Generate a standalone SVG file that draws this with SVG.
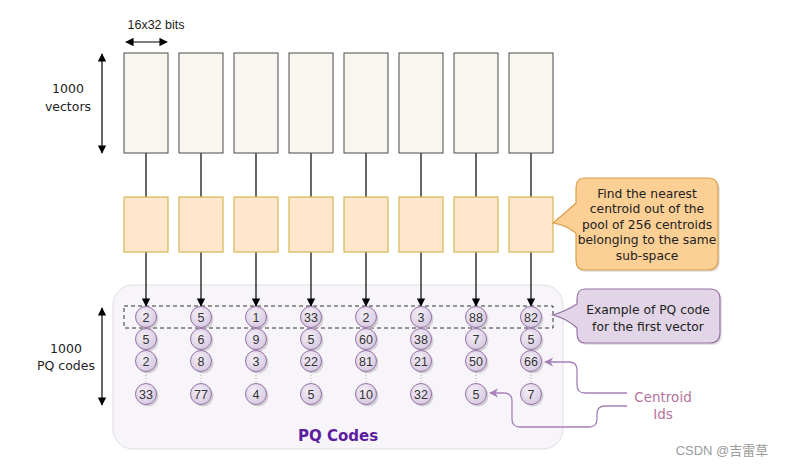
<svg xmlns="http://www.w3.org/2000/svg" width="788" height="467" viewBox="0 0 788 467">
<style>
.vec{fill:#f8f6ee;stroke:#4a4a4a;stroke-width:1}
.sub{fill:#ffe6cc;stroke:#d6b656;stroke-width:1.2}
.ln{stroke:#000;stroke-width:1.2;fill:none}
.cc{fill:url(#cg);stroke:#9673a6;stroke-width:1}
.cs{fill:#bbb;opacity:0.6}
.ct{font-family:"Liberation Sans",Arial,sans-serif;font-size:12.5px;fill:#333;text-anchor:middle}
.lbl{font-family:"DejaVu Sans","Liberation Sans",sans-serif;font-size:12.5px;fill:#222;text-anchor:middle}
.co{font-family:"DejaVu Sans","Liberation Sans",sans-serif;font-size:12.3px;fill:#222;text-anchor:middle}
.dot{stroke:#aaa;stroke-width:1;stroke-dasharray:1 2}
.pl{stroke:#a680b8;stroke-width:1.3;fill:none}
</style>
<defs>
<radialGradient id="cg" cx="0.4" cy="0.35" r="0.7">
<stop offset="0" stop-color="#f4eff7"/>
<stop offset="1" stop-color="#d6c8e0"/>
</radialGradient>
<marker id="ah" viewBox="0 0 10 10" refX="9" refY="5" markerWidth="7" markerHeight="7" orient="auto-start-reverse">
<path d="M0,0 L10,5 L0,10 z" fill="#000"/>
</marker>
<marker id="ap" viewBox="0 0 10 10" refX="9" refY="5" markerWidth="7" markerHeight="7" orient="auto">
<path d="M0,0 L10,5 L0,10 L3,5 z" fill="#a680b8"/>
</marker>
</defs>

<g id="pq-container">
<rect x="113" y="285" width="450" height="164" rx="20" fill="#f7f5f9" stroke="#e0dce4"/>
<text x="338" y="441" font-family="DejaVu Sans,sans-serif" font-size="15" font-weight="bold" fill="#5c1d9e" text-anchor="middle">PQ Codes</text>
</g>

<g id="dim-labels">
<text x="156" y="29" font-family="Liberation Sans,Arial,sans-serif" font-size="12.5" fill="#222" text-anchor="middle">16x32 bits</text>
<line x1="126" y1="42" x2="167" y2="42" class="ln" marker-start="url(#ah)" marker-end="url(#ah)"/>
<line x1="102" y1="54" x2="102" y2="153" class="ln" marker-start="url(#ah)" marker-end="url(#ah)"/>
<text x="68" y="93" class="lbl">1000</text>
<text x="68" y="111" class="lbl">vectors</text>
<line x1="102" y1="308" x2="102" y2="405" class="ln" marker-start="url(#ah)" marker-end="url(#ah)"/>
<text x="66" y="353" class="lbl">1000</text>
<text x="66" y="370" class="lbl">PQ codes</text>
</g>

<g id="connectors">
<line x1="146" y1="153" x2="146" y2="197" class="ln"/>
<line x1="201" y1="153" x2="201" y2="197" class="ln"/>
<line x1="256" y1="153" x2="256" y2="197" class="ln"/>
<line x1="311" y1="153" x2="311" y2="197" class="ln"/>
<line x1="366" y1="153" x2="366" y2="197" class="ln"/>
<line x1="421" y1="153" x2="421" y2="197" class="ln"/>
<line x1="476" y1="153" x2="476" y2="197" class="ln"/>
<line x1="531" y1="153" x2="531" y2="197" class="ln"/>
<line x1="146" y1="252" x2="146" y2="306" class="ln" marker-end="url(#ah)"/>
<line x1="201" y1="252" x2="201" y2="306" class="ln" marker-end="url(#ah)"/>
<line x1="256" y1="252" x2="256" y2="306" class="ln" marker-end="url(#ah)"/>
<line x1="311" y1="252" x2="311" y2="306" class="ln" marker-end="url(#ah)"/>
<line x1="366" y1="252" x2="366" y2="306" class="ln" marker-end="url(#ah)"/>
<line x1="421" y1="252" x2="421" y2="306" class="ln" marker-end="url(#ah)"/>
<line x1="476" y1="252" x2="476" y2="306" class="ln" marker-end="url(#ah)"/>
<line x1="531" y1="252" x2="531" y2="306" class="ln" marker-end="url(#ah)"/>
<path class="pl" d="M627,393 L585,393 Q577,393 577,385 L577,370 Q577,362 569,362 L545,362" marker-end="url(#ap)"/>
<path class="pl" d="M627,406 L605,406 Q597,406 597,414 L597,419 Q597,427 589,427 L520,427 Q512,427 512,419 L512,401 Q512,393 504,393 L490,393" marker-end="url(#ap)"/>
</g>

<g id="vectors">
<rect class="vec" x="124" y="53" width="44" height="100"/>
<rect class="vec" x="179" y="53" width="44" height="100"/>
<rect class="vec" x="234" y="53" width="44" height="100"/>
<rect class="vec" x="289" y="53" width="44" height="100"/>
<rect class="vec" x="344" y="53" width="44" height="100"/>
<rect class="vec" x="399" y="53" width="44" height="100"/>
<rect class="vec" x="454" y="53" width="44" height="100"/>
<rect class="vec" x="509" y="53" width="44" height="100"/>
</g>

<g id="subspaces">
<rect class="sub" x="124" y="197" width="44" height="55"/>
<rect class="sub" x="179" y="197" width="44" height="55"/>
<rect class="sub" x="234" y="197" width="44" height="55"/>
<rect class="sub" x="289" y="197" width="44" height="55"/>
<rect class="sub" x="344" y="197" width="44" height="55"/>
<rect class="sub" x="399" y="197" width="44" height="55"/>
<rect class="sub" x="454" y="197" width="44" height="55"/>
<rect class="sub" x="509" y="197" width="44" height="55"/>
</g>

<g id="first-vector-box">
<rect x="124" y="306" width="429" height="22" fill="none" stroke="#333" stroke-width="1" stroke-dasharray="4 3"/>
</g>

<g id="dots">
<line class="dot" x1="146" y1="372" x2="146" y2="383"/>
<line class="dot" x1="201" y1="372" x2="201" y2="383"/>
<line class="dot" x1="256" y1="372" x2="256" y2="383"/>
<line class="dot" x1="311" y1="372" x2="311" y2="383"/>
<line class="dot" x1="366" y1="372" x2="366" y2="383"/>
<line class="dot" x1="421" y1="372" x2="421" y2="383"/>
<line class="dot" x1="476" y1="372" x2="476" y2="383"/>
<line class="dot" x1="531" y1="372" x2="531" y2="383"/>
</g>

<g id="codes">
<g id="col1">
<circle class="cs" cx="148" cy="319" r="10.5"/><circle class="cc" cx="146" cy="317" r="10.5"/><text class="ct" x="146" y="321.5">2</text>
<circle class="cs" cx="148" cy="341" r="10.5"/><circle class="cc" cx="146" cy="339" r="10.5"/><text class="ct" x="146" y="343.5">5</text>
<circle class="cs" cx="148" cy="363" r="10.5"/><circle class="cc" cx="146" cy="361" r="10.5"/><text class="ct" x="146" y="365.5">2</text>
<circle class="cs" cx="148" cy="396" r="10.5"/><circle class="cc" cx="146" cy="394" r="10.5"/><text class="ct" x="146" y="398.5">33</text>
</g>
<g id="col2">
<circle class="cs" cx="203" cy="319" r="10.5"/><circle class="cc" cx="201" cy="317" r="10.5"/><text class="ct" x="201" y="321.5">5</text>
<circle class="cs" cx="203" cy="341" r="10.5"/><circle class="cc" cx="201" cy="339" r="10.5"/><text class="ct" x="201" y="343.5">6</text>
<circle class="cs" cx="203" cy="363" r="10.5"/><circle class="cc" cx="201" cy="361" r="10.5"/><text class="ct" x="201" y="365.5">8</text>
<circle class="cs" cx="203" cy="396" r="10.5"/><circle class="cc" cx="201" cy="394" r="10.5"/><text class="ct" x="201" y="398.5">77</text>
</g>
<g id="col3">
<circle class="cs" cx="258" cy="319" r="10.5"/><circle class="cc" cx="256" cy="317" r="10.5"/><text class="ct" x="256" y="321.5">1</text>
<circle class="cs" cx="258" cy="341" r="10.5"/><circle class="cc" cx="256" cy="339" r="10.5"/><text class="ct" x="256" y="343.5">9</text>
<circle class="cs" cx="258" cy="363" r="10.5"/><circle class="cc" cx="256" cy="361" r="10.5"/><text class="ct" x="256" y="365.5">3</text>
<circle class="cs" cx="258" cy="396" r="10.5"/><circle class="cc" cx="256" cy="394" r="10.5"/><text class="ct" x="256" y="398.5">4</text>
</g>
<g id="col4">
<circle class="cs" cx="313" cy="319" r="10.5"/><circle class="cc" cx="311" cy="317" r="10.5"/><text class="ct" x="311" y="321.5">33</text>
<circle class="cs" cx="313" cy="341" r="10.5"/><circle class="cc" cx="311" cy="339" r="10.5"/><text class="ct" x="311" y="343.5">5</text>
<circle class="cs" cx="313" cy="363" r="10.5"/><circle class="cc" cx="311" cy="361" r="10.5"/><text class="ct" x="311" y="365.5">22</text>
<circle class="cs" cx="313" cy="396" r="10.5"/><circle class="cc" cx="311" cy="394" r="10.5"/><text class="ct" x="311" y="398.5">5</text>
</g>
<g id="col5">
<circle class="cs" cx="368" cy="319" r="10.5"/><circle class="cc" cx="366" cy="317" r="10.5"/><text class="ct" x="366" y="321.5">2</text>
<circle class="cs" cx="368" cy="341" r="10.5"/><circle class="cc" cx="366" cy="339" r="10.5"/><text class="ct" x="366" y="343.5">60</text>
<circle class="cs" cx="368" cy="363" r="10.5"/><circle class="cc" cx="366" cy="361" r="10.5"/><text class="ct" x="366" y="365.5">81</text>
<circle class="cs" cx="368" cy="396" r="10.5"/><circle class="cc" cx="366" cy="394" r="10.5"/><text class="ct" x="366" y="398.5">10</text>
</g>
<g id="col6">
<circle class="cs" cx="423" cy="319" r="10.5"/><circle class="cc" cx="421" cy="317" r="10.5"/><text class="ct" x="421" y="321.5">3</text>
<circle class="cs" cx="423" cy="341" r="10.5"/><circle class="cc" cx="421" cy="339" r="10.5"/><text class="ct" x="421" y="343.5">38</text>
<circle class="cs" cx="423" cy="363" r="10.5"/><circle class="cc" cx="421" cy="361" r="10.5"/><text class="ct" x="421" y="365.5">21</text>
<circle class="cs" cx="423" cy="396" r="10.5"/><circle class="cc" cx="421" cy="394" r="10.5"/><text class="ct" x="421" y="398.5">32</text>
</g>
<g id="col7">
<circle class="cs" cx="478" cy="319" r="10.5"/><circle class="cc" cx="476" cy="317" r="10.5"/><text class="ct" x="476" y="321.5">88</text>
<circle class="cs" cx="478" cy="341" r="10.5"/><circle class="cc" cx="476" cy="339" r="10.5"/><text class="ct" x="476" y="343.5">7</text>
<circle class="cs" cx="478" cy="363" r="10.5"/><circle class="cc" cx="476" cy="361" r="10.5"/><text class="ct" x="476" y="365.5">50</text>
<circle class="cs" cx="478" cy="396" r="10.5"/><circle class="cc" cx="476" cy="394" r="10.5"/><text class="ct" x="476" y="398.5">5</text>
</g>
<g id="col8">
<circle class="cs" cx="533" cy="319" r="10.5"/><circle class="cc" cx="531" cy="317" r="10.5"/><text class="ct" x="531" y="321.5">82</text>
<circle class="cs" cx="533" cy="341" r="10.5"/><circle class="cc" cx="531" cy="339" r="10.5"/><text class="ct" x="531" y="343.5">5</text>
<circle class="cs" cx="533" cy="363" r="10.5"/><circle class="cc" cx="531" cy="361" r="10.5"/><text class="ct" x="531" y="365.5">66</text>
<circle class="cs" cx="533" cy="396" r="10.5"/><circle class="cc" cx="531" cy="394" r="10.5"/><text class="ct" x="531" y="398.5">7</text>
</g>
</g>

<g id="callout-centroid">
<path d="M586,180 L710,180 Q720,180 720,190 L720,262 Q720,272 710,272 L586,272 Q578,272 578,262 L578,235 Q566,226 555,225 Q566,216 578,205 L578,190 Q578,180 586,180 Z" fill="#ccc" opacity="0.5"/>
<path d="M584,178 L708,178 Q718,178 718,188 L718,260 Q718,270 708,270 L584,270 Q576,270 576,260 L576,233 Q564,224 553,223 Q564,214 576,203 L576,188 Q576,178 584,178 Z" fill="#fccf95" stroke="#d9a04a" stroke-width="1.2"/>
<text class="co" x="647" y="198">Find the nearest</text>
<text class="co" x="647" y="213">centroid out of the</text>
<text class="co" x="647" y="229">pool of 256 centroids</text>
<text class="co" x="647" y="244">belonging to the same</text>
<text class="co" x="647" y="260">sub-space</text>
</g>

<g id="callout-example">
<path d="M587,291 L712,291 Q722,291 722,301 L722,335 Q722,345 712,345 L587,345 Q579,345 579,335 L579,330 Q568,320 555,317 Q568,313 579,306 L579,301 Q579,291 587,291 Z" fill="#ccc" opacity="0.5"/>
<path d="M585,289 L710,289 Q720,289 720,299 L720,333 Q720,343 710,343 L585,343 Q577,343 577,333 L577,328 Q566,318 553,315 Q566,311 577,304 L577,299 Q577,289 585,289 Z" fill="#e1d5e7" stroke="#9673a6" stroke-width="1.2"/>
<text class="co" x="648" y="314">Example of PQ code</text>
<text class="co" x="648" y="331">for the first vector</text>
</g>

<g id="centroid-ids">
<text x="663" y="402" font-family="DejaVu Sans,sans-serif" font-size="13.5" fill="#b5739d" text-anchor="middle">Centroid</text>
<text x="663" y="419" font-family="DejaVu Sans,sans-serif" font-size="13.5" fill="#b5739d" text-anchor="middle">Ids</text>
</g>

<text x="722" y="455" font-family="Liberation Sans,'Noto Sans CJK SC',sans-serif" font-size="13" fill="#9a9a9a" text-anchor="middle">CSDN @吉雷草</text>
</svg>
